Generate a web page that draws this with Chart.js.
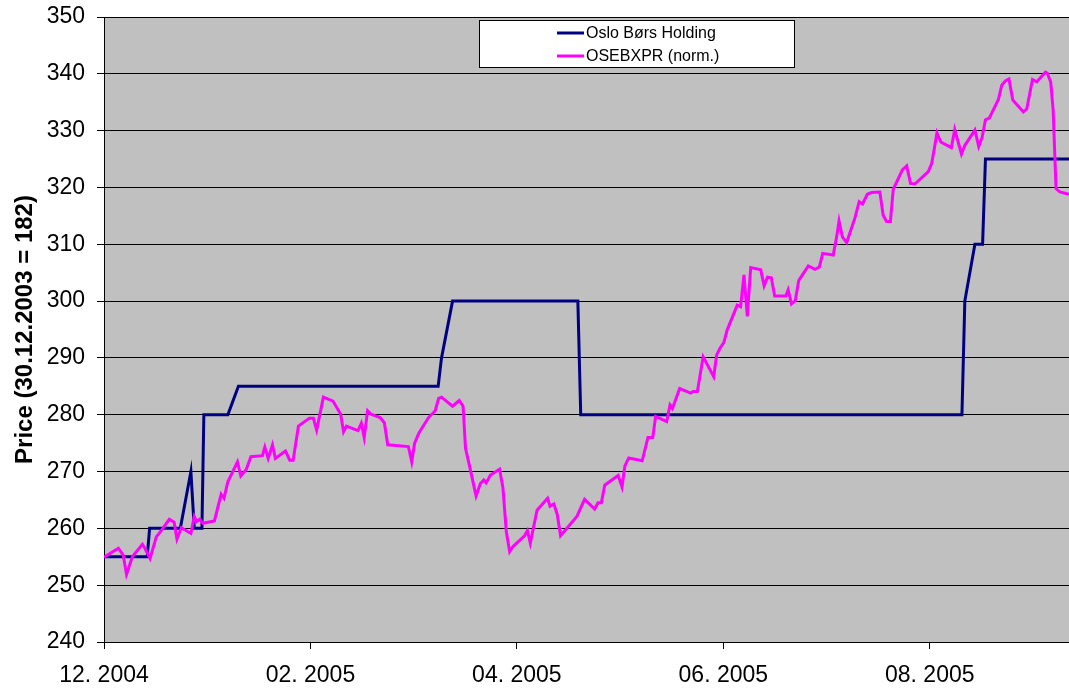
<!DOCTYPE html>
<html lang="en">

<head>
  <meta charset="UTF-8">
  <title>Oslo Børs Holding</title>
  <script src="https://cdn.jsdelivr.net/npm/chart.js"></script>
  <style>
    body { margin: 0; background: #fff; }
    .wrap { width: 1069px; height: 691px; }
  </style>
</head>

<body>
  <div class="wrap"><canvas id="grafico"></canvas></div>
</body>

</html>
<script>
  // x = trading day index, one axis label every 43 days
  const TICK_POS = [0, 43, 86, 129, 172];
  const TICK_LABELS = ['12. 2004', '02. 2005', '04. 2005', '06. 2005', '08. 2005'];
  const X_MAX = 201;
  const Y_TITLE = 'Price (30.12.2003 = 182)';

  const SERIE_NAMES = ['Oslo Børs Holding', 'OSEBXPR (norm.)'];

  // Oslo Børs Holding (step-like price)
  const OBH_X = [0, 9.0, 9.5, 15.9, 18.1, 18.8, 20.4, 20.8, 25.8, 28.0,
    69.6, 70.3, 72.6, 98.7, 99.3, 178.7, 179.3, 181.4, 183.0, 183.6, 201];
  const OBH_Y = [255, 255, 260, 260, 270, 260, 260, 280, 280, 285,
    285, 290, 300, 300, 280, 280, 300, 310, 310, 325, 325];

  // OSEBXPR normalised
  const OSE_X = [
    0, 3.0, 4.0, 4.7, 5.9, 8.0, 8.5, 9.6, 10.9, 12.0,
    13.6, 14.6, 15.2, 16.1, 18.1, 18.8, 19.3, 19.9, 20.6, 23.0,
    24.4, 25.0, 25.8, 27.8, 28.5, 29.6, 30.6, 33.0, 33.5, 34.2,
    35.1, 35.7, 37.8, 38.7, 39.4, 40.5, 42.8, 43.6, 44.3, 45.7,
    47.7, 49.3, 49.9, 50.5, 52.9, 53.6, 54.2, 54.9, 55.6, 57.5,
    58.4, 59.1, 63.4, 64.1, 64.7, 65.6, 67.6, 69.0, 69.7, 70.3,
    72.6, 74.0, 74.8, 75.3, 76.4, 77.5, 78.4, 79.1, 79.6, 80.5,
    82.4, 83.1, 83.8, 84.5, 85.2, 87.6, 88.2, 88.8, 90.2, 92.4,
    92.9, 93.7, 94.4, 95.1, 98.5, 100.1, 102.2, 102.9, 103.6, 104.3,
    107.1, 107.9, 108.5, 109.3, 112.1, 113.3, 114.3, 114.9, 117.2, 117.9,
    118.4, 119.9, 122.2, 122.7, 123.6, 124.8, 127.0, 127.6, 128.3, 129.1,
    129.8, 131.9, 132.6, 133.3, 134.0, 134.7, 136.8, 137.5, 138.2, 139.0,
    139.7, 142.0, 142.5, 143.2, 144.0, 144.7, 146.7, 148.1, 149.0, 149.7,
    151.9, 152.6, 153.1, 153.8, 154.7, 156.4, 157.3, 158.0, 159.0, 159.9,
    161.6, 162.3, 163.0, 163.8, 164.4, 166.3, 167.2, 168.0, 168.9, 171.7,
    172.4, 172.9, 173.5, 174.3, 176.5, 177.2, 178.6, 179.3, 181.4, 182.2,
    182.9, 183.6, 184.4, 186.3, 187.0, 187.8, 188.5, 189.3, 191.5, 192.2,
    193.4, 194.3, 196.1, 196.5, 197.2, 197.7, 198.3, 199.1, 201];
  const OSE_Y = [
    254.9, 256.5, 255.3, 251.9, 255.0, 257.2, 256.5, 254.7, 258.5, 259.7,
    261.6, 261.1, 258.1, 260.1, 259.1, 262.1, 261.2, 261.6, 260.9, 261.3,
    266.0, 265.3, 268.2, 271.7, 269.2, 270.3, 272.6, 272.8, 274.3, 272.3,
    274.7, 272.3, 273.6, 272.0, 272.0, 278.0, 279.4, 279.4, 277.3, 283.1,
    282.4, 280.1, 277.0, 278.0, 277.2, 278.5, 276.0, 280.7, 280.1, 279.5,
    278.6, 274.7, 274.4, 271.7, 275.0, 276.8, 279.5, 280.7, 282.9, 283.1,
    281.5, 282.5, 281.5, 274.1, 270.0, 265.7, 267.9, 268.5, 268.0, 269.4,
    270.4, 267.1, 259.4, 255.9, 256.8, 258.7, 259.6, 257.4, 263.2, 265.3,
    263.9, 264.3, 262.5, 258.7, 262.1, 265.1, 263.4, 264.5, 264.5, 267.6,
    269.3, 267.3, 271.0, 272.4, 271.9, 276.0, 276.0, 279.7, 278.8, 281.7,
    281.1, 284.6, 283.8, 284.1, 284.1, 290.2, 286.7, 290.5, 291.7, 292.7,
    294.9, 299.3, 299.0, 304.6, 297.3, 305.9, 305.5, 302.7, 304.2, 304.1,
    300.9, 300.9, 302.0, 299.5, 300.1, 303.6, 306.2, 305.6, 306.0, 308.4,
    308.1, 311.3, 314.1, 311.3, 310.3, 314.6, 317.5, 317.1, 318.8, 319.1,
    319.2, 315.1, 314.0, 314.0, 319.7, 323.1, 323.8, 320.7, 320.6, 322.8,
    324.2, 326.6, 329.6, 328.0, 327.0, 330.2, 325.9, 327.4, 330.1, 327.2,
    328.8, 331.9, 332.2, 335.5, 338.0, 338.8, 339.1, 335.4, 333.3, 333.8,
    339.0, 338.6, 340.3, 340.1, 338.5, 333.6, 319.8, 319.2, 318.8];

  const pares = (xs, ys) => xs.map((x, i) => ({ x: x, y: ys[i] }));

  Chart.defaults.font.family = '"Liberation Sans", Arial, sans-serif';
  Chart.defaults.color = '#000';

  // grey plot area
  const fundoCinza = {
    id: 'fundoCinza',
    beforeDraw(chart) {
      const a = chart.chartArea;
      chart.ctx.save();
      chart.ctx.fillStyle = '#c0c0c0';
      chart.ctx.fillRect(a.left, a.top, a.right - a.left, a.bottom - a.top);
      chart.ctx.restore();
    }
  };

  // boxed legend inside the plot, like the excel one
  const legendaCaixa = {
    id: 'legendaCaixa',
    afterDraw(chart) {
      const ctx = chart.ctx;
      ctx.save();
      ctx.fillStyle = '#fff';
      ctx.fillRect(479.5, 20.5, 315, 47);
      ctx.strokeStyle = '#000';
      ctx.lineWidth = 1;
      ctx.strokeRect(479.5, 20.5, 315, 47);
      ctx.font = '16px "Liberation Sans", Arial, sans-serif';
      ctx.textBaseline = 'middle';
      chart.data.datasets.forEach((ds, i) => {
        const y = 33 + i * 23;
        ctx.strokeStyle = ds.borderColor;
        ctx.lineWidth = 3;
        ctx.beginPath();
        ctx.moveTo(557, y);
        ctx.lineTo(584, y);
        ctx.stroke();
        ctx.fillStyle = '#000';
        ctx.fillText(ds.label, 586, y + 1);
      });
      ctx.restore();
    }
  };

  new Chart(document.getElementById('grafico'), {
    type: 'line',
    data: {
      datasets: [{
        label: SERIE_NAMES[0],
        data: pares(OBH_X, OBH_Y),
        borderColor: '#000080',
        borderWidth: 3,
        order: 1
      }, {
        label: SERIE_NAMES[1],
        data: pares(OSE_X, OSE_Y),
        borderColor: '#ff00ff',
        borderWidth: 3,
        order: 0
      }]
    },
    options: {
      responsive: true,
      maintainAspectRatio: false,
      animation: false,
      layout: { padding: { top: 17, right: 0, left: 0, bottom: 0 } },
      elements: { point: { radius: 0 }, line: { tension: 0 } },
      plugins: { legend: { display: false }, tooltip: { enabled: false } },
      scales: {
        x: {
          type: 'linear',
          min: 0,
          max: X_MAX,
          afterBuildTicks: axis => { axis.ticks = TICK_POS.map(v => ({ value: v })); },
          afterFit: axis => { axis.height = 49; },
          ticks: {
            autoSkip: false,
            maxRotation: 0,
            padding: 13,
            font: { size: 23 },
            callback: v => TICK_LABELS[TICK_POS.indexOf(v)]
          },
          grid: { drawOnChartArea: false, color: '#000', tickLength: 7 },
          border: { color: '#000', width: 1 }
        },
        y: {
          min: 240,
          max: 350,
          afterFit: axis => {
            axis.width = 104;
            // keep the plot top where the reference has it
            axis.paddingTop = 0;
            axis.paddingBottom = 0;
          },
          ticks: { stepSize: 10, padding: 12, font: { size: 23 } },
          grid: { color: '#000', tickLength: 7 },
          border: { color: '#000', width: 1 },
          title: {
            display: true,
            text: Y_TITLE,
            font: { size: 24, weight: 'bold' },
            padding: { top: 11, bottom: 0 }
          }
        }
      }
    },
    plugins: [fundoCinza, legendaCaixa]
  });
</script>
